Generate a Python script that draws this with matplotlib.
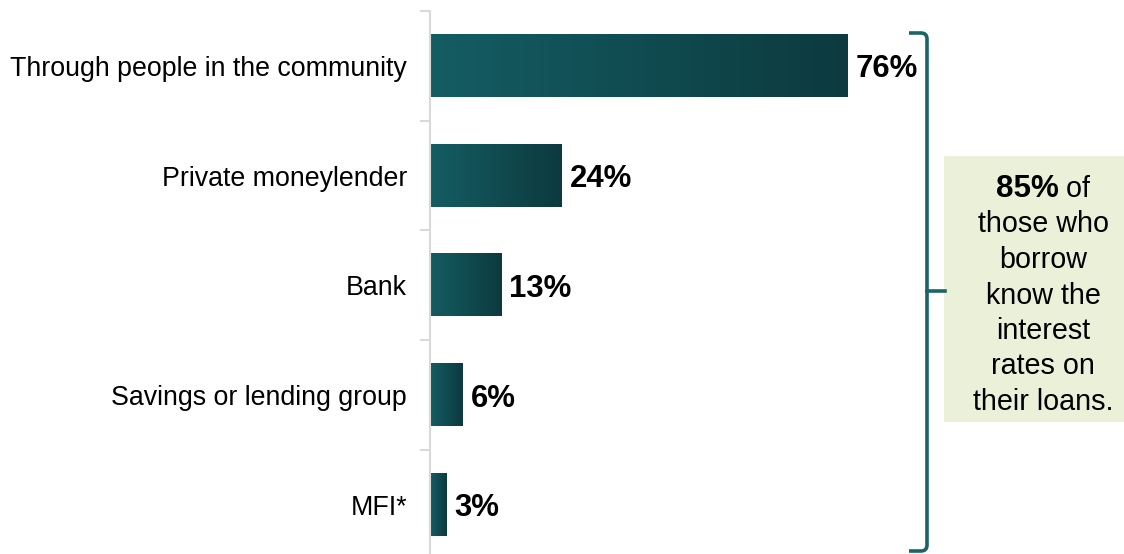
import matplotlib.pyplot as plt
import numpy as np
from matplotlib.colors import LinearSegmentedColormap
from matplotlib.patches import Rectangle, PathPatch
from matplotlib.path import Path

plt.rcParams['font.family'] = ['Liberation Sans', 'DejaVu Sans']

sources = ['Through people in the community', 'Private moneylender', 'Bank',
           'Savings or lending group', 'MFI*']
shares = [76, 24, 13, 6, 3]
callout_pct = '85%'
callout_first = ' of'
callout_lines = ['those who', 'borrow', 'know the', 'interest', 'rates on', 'their loans.']

W, H = 1124, 554
fig = plt.figure(figsize=(W / 100, H / 100), dpi=100)


def fx(x):
    return x / W


def fy(y):
    return 1 - y / H


ax = fig.add_axes([fx(430), fy(559.75), 550 / W, 548.75 / H])

teal = LinearSegmentedColormap.from_list('teal', ['#145d63', '#0c3a3f'])
grad = np.linspace(0, 1, 256).reshape(1, -1)
bar_h = 0.565
for i, v in enumerate(shares):
    ax.imshow(grad, cmap=teal, aspect='auto', interpolation='bilinear',
              extent=[0, v, i + bar_h / 2, i - bar_h / 2])
    ax.annotate(f'{v}%', xy=(v, i), xytext=(5.5, 0), textcoords='offset points',
                ha='left', va='center_baseline', fontsize=22.4, fontweight='bold')

ax.set_xlim(0, 100)
ax.set_ylim(len(sources) - 0.5, -0.5)
ax.set_yticks(range(len(sources)))
ax.set_yticklabels(sources, fontsize=19.3)
ax.set_yticks(np.arange(-0.5, len(sources), 1), minor=True)
ax.tick_params(axis='y', which='major', length=0, pad=16.5)
ax.tick_params(axis='y', which='minor', length=7, width=1.5, color='#d9d9d9')
ax.set_xticks([])
for s in ['top', 'right', 'bottom']:
    ax.spines[s].set_visible(False)
ax.spines['left'].set_color('#d9d9d9')
ax.spines['left'].set_linewidth(1.5)

# curly bracket grouping all sources
bx, top, mid, bot = 927, 33, 291, 551
verts = [(909, top), (921, top), (927, top), (927, top + 6), (927, bot - 6),
         (927, bot), (921, bot), (909, bot)]
codes = [Path.MOVETO, Path.LINETO, Path.CURVE3, Path.CURVE3, Path.LINETO,
         Path.CURVE3, Path.CURVE3, Path.LINETO]
brace = Path([(fx(x), fy(y)) for x, y in verts], codes)
fig.add_artist(PathPatch(brace, transform=fig.transFigure, fill=False,
                         edgecolor='#1b6569', lw=2.6, capstyle='butt'))
fig.add_artist(plt.Line2D([fx(bx), fx(945)], [fy(mid), fy(mid)],
                          transform=fig.transFigure, color='#1b6569', lw=2.6))

# callout box
fig.add_artist(Rectangle((fx(944), fy(422)), (W - 944) / W, (422 - 156) / H,
                         transform=fig.transFigure, facecolor='#ebf0d8',
                         edgecolor='none'))
cx = 1043
t_bold = fig.text(0, fy(197), callout_pct, fontsize=22.6, fontweight='bold',
                  va='baseline', ha='left')
t_reg = fig.text(0, fy(197), callout_first, fontsize=20.7, va='baseline', ha='left')
fig.canvas.draw()
r = fig.canvas.get_renderer()
w1 = t_bold.get_window_extent(r).width
w2 = t_reg.get_window_extent(r).width
x0 = cx - (w1 + w2) / 2
t_bold.set_x(fx(x0))
t_reg.set_x(fx(x0 + w1))
for k, line in enumerate(callout_lines, start=1):
    fig.text(fx(cx), fy(197 + 35.5 * k), line, fontsize=20.7,
             ha='center', va='baseline')

fig.savefig('out.png', dpi=100)
